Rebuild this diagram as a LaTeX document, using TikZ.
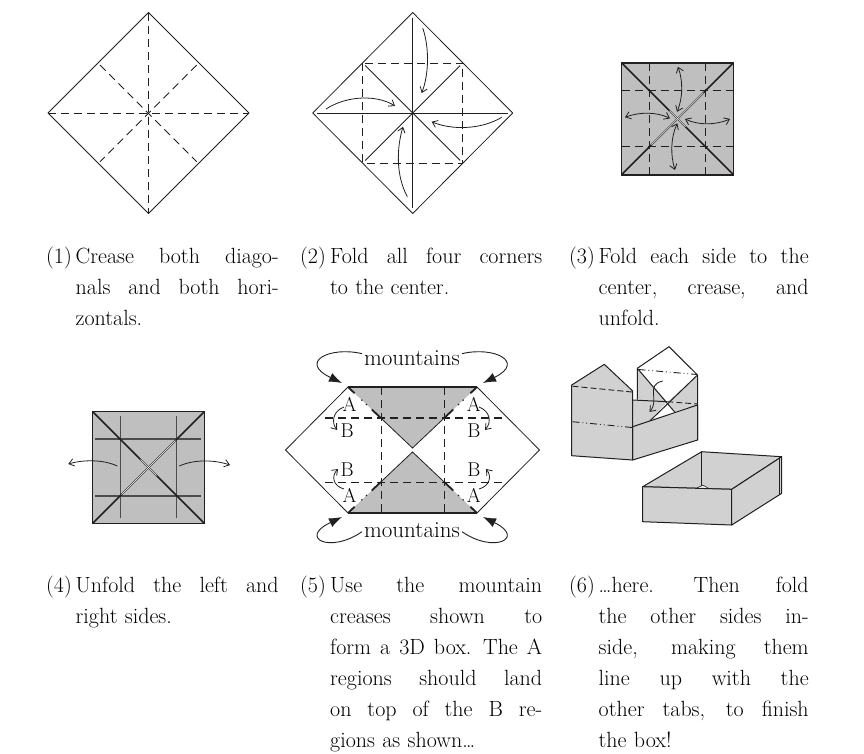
\documentclass[tikz,border=0pt]{standalone}
\usepackage{fontspec}
\usetikzlibrary{arrows.meta,calc}
\definecolor{ink}{HTML}{231F20}
\definecolor{paper}{gray}{0.75}
\definecolor{paperlt}{gray}{0.82}
\newcommand\jline[2]{\hbox to #1{\spaceskip=0.3333em plus 1fil minus 0.1em\relax\xspaceskip=0.45em plus 1fil\relax #2}\par}
\tikzset{
  edge/.style={draw=ink,line width=0.8pt,line join=round},
  crease/.style={draw=ink,line width=0.8pt,dash pattern=on 8pt off 5pt},
  boldcrease/.style={draw=ink,line width=1.5pt,dash pattern=on 8pt off 5pt},
  fold/.style={draw=ink,line width=0.8pt},
  greyline/.style={draw=black!70,line width=1.1pt},
  diagline/.style={draw=ink,line width=1.6pt},
  core/.style={draw=white,line width=0.5pt},
  sqedge/.style={draw=ink,line width=1.5pt},
  barb/.style={draw=ink,line width=0.8pt,-{Straight Barb[length=5pt,width=7.5pt]}},
  dbarb/.style={draw=ink,line width=0.8pt,{Straight Barb[length=5pt,width=7.5pt]}-{Straight Barb[length=5pt,width=7.5pt]}},
  bigarrow/.style={draw=ink,line width=0.9pt,-{Latex[length=13pt,width=9.5pt]}},
  mtn/.style={draw=ink,line width=1.8pt},
  boxface/.style={fill=paperlt,draw=ink,line width=1pt,line join=round},
  boxline/.style={draw=ink,line width=1pt},
  boxdash/.style={draw=ink,line width=0.9pt,dash pattern=on 6pt off 3pt},
  boxmtn/.style={draw=ink,line width=0.9pt,dash pattern=on 7pt off 3pt on 0.8pt off 3pt on 0.8pt off 3pt},
  txt/.style={inner sep=0pt,font=\fontsize{22}{31}\selectfont},
  capnum/.style={txt,anchor=base east},
  captext/.style={txt,anchor=base west},
  lbl/.style={inner sep=0pt,font=\fontsize{20}{24}\selectfont},
  mlbl/.style={inner sep=0pt,anchor=base,font=\fontsize{23}{28}\selectfont},
}
\begin{document}
\begin{tikzpicture}[x=1pt,y=-1pt]
\useasboundingbox (0,0) rectangle (864,753);

% ---------- (1) ----------
\begin{scope}[shift={(148.5,113)}]
  \coordinate (a1t) at (0,-100.5);
  \coordinate (a1b) at (0,100.5);
  \coordinate (a1l) at (-100.5,0);
  \coordinate (a1r) at (100.5,0);
  \draw[crease] (a1t)--(a1b);
  \draw[crease] (a1l)--(a1r);
  \draw[crease] (-48.5,-48)--(48.2,48.7);
  \draw[crease] (48.2,-48)--(-48.5,48.7);
  \draw[edge] (a1t)--(a1r)--(a1b)--(a1l)--cycle;
\end{scope}

% ---------- (2) ----------
\begin{scope}[shift={(412.7,113)}]
  \coordinate (a2t) at (0,-100.5);
  \coordinate (a2b) at (0,100.5);
  \coordinate (a2l) at (-100,0);
  \coordinate (a2r) at (100,0);
  \draw[edge] (a2t)--(a2r)--(a2b)--(a2l)--cycle;
  \draw[crease] (-50,-50) rectangle (50,50);
  \draw[fold] (0,-95)--(0,95);
  \draw[fold] (-95.5,0)--(95.5,0);
  \draw[fold] (-47.5,-47.5)--(47.5,47.5);
  \draw[fold] (47.5,-47.5)--(-47.5,47.5);
  \draw[barb] (10,-85) .. controls (17,-65) and (16,-38) .. (9,-20);
  \draw[barb] (-86.7,-4) .. controls (-65,-18) and (-35,-18) .. (-17.7,-7);
  \draw[barb] (89,4.3) .. controls (68,17) and (38,17) .. (19,8.7);
  \draw[barb] (-5.4,83.7) .. controls (-17,62) and (-16,35) .. (-9.7,13.7);
\end{scope}

% ---------- (3) ----------
\begin{scope}[shift={(677.5,118.8)}]
  \fill[paper] (-56,-56) rectangle (56,56);
  \draw[crease] (-28,-56)--(-28,56);
  \draw[crease] (28,-56)--(28,56);
  \draw[crease] (-56,-28)--(56,-28);
  \draw[crease] (-56,28)--(56,28);
  \draw[diagline] (-56,-56)--(56,56);
  \draw[diagline] (56,-56)--(-56,56);
  \draw[core] (-26,26)--(26,-26);
  \draw[core] (-8,-8)--(8,8);
  \draw[sqedge] (-56,-56) rectangle (56,56);
  \draw[dbarb] (0.5,-52) .. controls (5.5,-38) and (5.5,-21) .. (-0.5,-7);
  \draw[dbarb] (-52.5,-1.5) .. controls (-38,-7) and (-21,-7) .. (-7.5,-0.5);
  \draw[dbarb] (7.5,0.2) .. controls (21,6.5) and (38,6.5) .. (52.5,0.2);
  \draw[dbarb] (-0.2,4.5) .. controls (-7,19) and (-7,37) .. (-2.5,51.2);
\end{scope}

% ---------- (4) ----------
\begin{scope}[shift={(148.5,467.5)}]
  \fill[paper] (-56,-56) rectangle (56,56);
  \draw[greyline] (-28,-51.5)--(-28,50.5);
  \draw[greyline] (28,-51.5)--(28,50.5);
  \draw[greyline] (-53.5,-28.5)--(52,-28.5);
  \draw[greyline] (-53.5,28.5)--(52,28.5);
  \draw[diagline] (-56,-56)--(56,56);
  \draw[diagline] (56,-56)--(-56,56);
  \draw[core] (-27,27)--(27,-27);
  \draw[core] (-8,-8)--(8,8);
  \draw[sqedge] (-56,-56) rectangle (56,56);
  \draw[barb] (-31.2,-1.5) .. controls (-45,-8) and (-65,-8) .. (-80.2,-3.5);
  \draw[barb] (30.8,-1.5) .. controls (45,-8) and (65,-8) .. (81.5,-2.5);
\end{scope}

% ---------- (5) ----------
\coordinate (p5l) at (285.5,450);
\coordinate (p5tl) at (348,387);
\coordinate (p5tr) at (477,387);
\coordinate (p5r) at (539.5,450);
\coordinate (p5br) at (477,513);
\coordinate (p5bl) at (348,513);
\coordinate (p5ta) at (412.5,448);
\coordinate (p5ba) at (412.5,452);
\fill[paper] (p5tl)--(p5tr)--(p5ta)--cycle;
\fill[paper] (p5bl)--(p5br)--(p5ba)--cycle;
\draw[crease] (381,387)--(381,513);
\draw[crease] (444,387)--(444,513);
\draw[boldcrease] (325,418)--(502,418);
\draw[crease] (325,482)--(502,482);
\coordinate (x5tl) at ($(p5tl)!0.5116!(p5ta)$);
\coordinate (x5tr) at ($(p5tr)!0.5116!(p5ta)$);
\coordinate (x5bl) at ($(p5bl)!0.5116!(p5ba)$);
\coordinate (x5br) at ($(p5br)!0.5116!(p5ba)$);
\draw[fold] (x5tl)--(p5ta)--(x5tr);
\draw[fold] (x5bl)--(p5ba)--(x5br);
\foreach \c/\x in {p5tl/x5tl,p5tr/x5tr,p5bl/x5bl,p5br/x5br}{
  \draw[mtn] (\c)--($(\c)!0.2!(\x)$);
  \draw[mtn] ($(\c)!0.72!(\x)$)--(\x);
  \fill[ink] ($(\c)!0.42!(\x)$) circle (0.9);
  \fill[ink] ($(\c)!0.56!(\x)$) circle (0.9);
}
\draw[edge] (p5l)--(p5tl)--(p5tr)--(p5r)--(p5br)--(p5bl)--cycle;
\draw[draw=ink,line width=1.6pt] (p5tl)--(p5tr);
\draw[draw=ink,line width=1.6pt] (p5bl)--(p5br);
\node[lbl] (la1) at (349.6,404) {A};
\node[lbl] (lb1) at (347.2,431) {B};
\node[lbl] (la2) at (473.8,404) {A};
\node[lbl] (lb2) at (473.8,431) {B};
\node[lbl] (lb3) at (347.2,470) {B};
\node[lbl] (la3) at (349.6,495) {A};
\node[lbl] (lb4) at (473.8,470) {B};
\node[lbl] (la4) at (473.8,495) {A};
\draw[barb] (344,407) .. controls (333,411) and (331,422) .. (337,430);
\draw[barb] (479,407) .. controls (490,411) and (492,422) .. (485,430);
\draw[barb] (344,489) .. controls (333,486) and (331,476) .. (338,469);
\draw[barb] (479,489) .. controls (490,486) and (492,476) .. (486,469);
\node[mlbl] (mt) at (412,365) {mountains};
\node[mlbl] (mb) at (412,537) {mountains};
\draw[bigarrow] (mt.west) ++(-2,-4) .. controls (330,346) and (298,362) .. (342,383);
\draw[bigarrow] (mt.east) ++(2,-4) .. controls (494,346) and (526,362) .. (483,383);
\draw[bigarrow] (mb.west) ++(-2,2) .. controls (330,554) and (298,538) .. (342,517);
\draw[bigarrow] (mb.east) ++(2,2) .. controls (494,554) and (526,538) .. (483,517);

% ---------- (6) ----------
\fill[paperlt] (632.7,400)--(697.5,404)--(697.5,405)--(632.7,426.7)--cycle;
\coordinate (r1) at (637.3,368.3);
\coordinate (r2) at (669,346.7);
\coordinate (r3) at (697.5,375);
\coordinate (rx) at (667.3,401.7);
\coordinate (w1) at (650,420.8);
\coordinate (w2) at (675,412.4);
\fill[paperlt] (r1)--(r2)--(r3)--(697.5,404)--(637.3,399.6)--cycle;
\fill[white] (r1)--(r2)--(r3)--(rx)--cycle;
\fill[white] (rx)--(w1)--(w2)--cycle;
\draw[boxline] (637.3,399.6)--(r1)--(r2)--(r3)--(697.5,440);
\draw[boxline] (r1)--(w2);
\draw[boxline] (r3)--(w1);
\draw[boxline] (632.7,400)--(rx);
\draw[boxdash] (rx)--(697.5,404);
\draw[boxmtn] (638.5,369.5)--(697,374.5);
\draw[boxface] (632.7,426.7)--(697.5,405)--(697.5,440)--(632.7,460)--cycle;
\draw[boxface] (571.7,455.7)--(571.7,385)--(604.3,364.3)--(632.7,391)--(632.7,460)--cycle;
\draw[boxdash] (572.5,386.2)--(632,392);
\draw[boxmtn] (572.5,421.7)--(632,427.5);
\draw[barb] (662.7,381) .. controls (645,385) and (660,400) .. (649.5,412);
\draw[boxface] (642.7,486.7)--(701.7,451.7)--(781.7,456.7)--(731.7,489.3)--cycle;
\draw[boxline] (701.7,451.7)--(701.7,485.5);
\filldraw[fill=white,draw=ink,line width=0.6pt] (696,488.3)--(703,485.2)--(709,488.6)--cycle;
\draw[boxface] (642.7,486.7)--(731.7,489.3)--(731.7,525)--(642.7,521.7)--cycle;
\draw[boxface] (731.7,489.3)--(781.7,456.7)--(781.7,493.3)--(731.7,525)--cycle;
\draw[boxline] (779.6,458)--(779.6,494.5);

% ---------- captions ----------
\node[capnum] (n1) at (72,263) {(1)};
\node[captext,text width=203pt] (t1) at (75.5,263)
  {\jline{203pt}{Crease both diago-}\jline{203pt}{nals and both hori-}zontals.};
\node[capnum] (n2) at (326,263) {(2)};
\node[captext,text width=212pt] (t2) at (330,263)
  {\jline{212pt}{Fold all four corners}to the center.};
\node[capnum] (n3) at (595,263) {(3)};
\node[captext,text width=210pt] (t3) at (598.5,263)
  {\jline{210pt}{Fold each side to the}\jline{210pt}{center, crease, and}unfold.};
\node[capnum] (n4) at (72,592) {(4)};
\node[captext,text width=203pt] (t4) at (75.5,592)
  {\jline{203pt}{Unfold the left and}right sides.};
\node[capnum] (n5) at (326,592) {(5)};
\node[captext,text width=212pt] (t5) at (330,592)
  {\jline{212pt}{Use the mountain}\jline{212pt}{creases shown to}\jline{212pt}{form a 3D box. The A}\jline{212pt}{regions should land}\jline{212pt}{on top of the B re-}gions as shown\ldots};
\node[capnum] (n6) at (595,592) {(6)};
\node[captext,text width=210pt] (t6) at (598.5,592)
  {\jline{210pt}{\ldots here.\hskip 0.5em plus 1fil Then fold}\jline{210pt}{the other sides in-}\jline{210pt}{side, making them}\jline{210pt}{line up with the}\jline{210pt}{other tabs, to finish}the box!};
\end{tikzpicture}
\end{document}
